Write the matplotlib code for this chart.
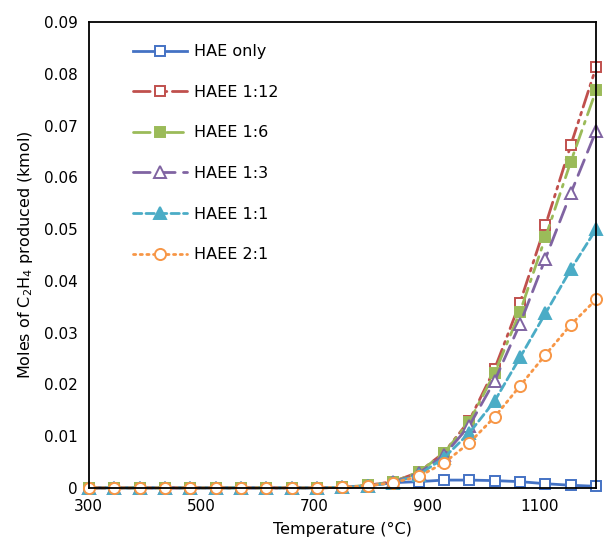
import matplotlib
matplotlib.use("Agg")
import matplotlib.pyplot as plt

temperature = [300, 345, 390, 435, 480, 525, 570, 615, 660, 705, 750,
               795, 840, 885, 930, 975, 1020, 1065, 1110, 1155, 1200]

hae_only = [0, 0, 0, 0, 0, 0, 0, 0, 0, 0, 0.0001,
            0.0004, 0.0010, 0.0012, 0.0015, 0.0015, 0.0014, 0.0012, 0.0008, 0.0005, 0.0003]
haee_1_12 = [0, 0, 0, 0, 0, 0, 0, 0, 0, 0, 0.0001,
             0.0005, 0.0012, 0.0030, 0.0068, 0.0130, 0.0230, 0.0358, 0.0507, 0.0662, 0.0813]
haee_1_6 = [0, 0, 0, 0, 0, 0, 0, 0, 0, 0, 0.0001,
            0.0005, 0.0012, 0.0030, 0.0067, 0.0128, 0.0222, 0.0340, 0.0484, 0.0630, 0.0768]
haee_1_3 = [0, 0, 0, 0, 0, 0, 0, 0, 0, 0, 0.0001,
            0.0004, 0.0011, 0.0028, 0.0063, 0.0120, 0.0207, 0.0317, 0.0443, 0.0569, 0.0690]
haee_1_1 = [0, 0, 0, 0, 0, 0, 0, 0, 0, 0, 0.0001,
            0.0004, 0.0010, 0.0025, 0.0058, 0.0106, 0.0168, 0.0252, 0.0337, 0.0422, 0.0500]
haee_2_1 = [0, 0, 0, 0, 0, 0, 0, 0, 0, 0, 0.0001,
            0.0004, 0.0010, 0.0022, 0.0048, 0.0087, 0.0137, 0.0197, 0.0257, 0.0315, 0.0364]

labels = ["HAE only", "HAEE 1:12", "HAEE 1:6", "HAEE 1:3", "HAEE 1:1", "HAEE 2:1"]
x_ticks = [300, 500, 700, 900, 1100]
y_ticks = [0, 0.01, 0.02, 0.03, 0.04, 0.05, 0.06, 0.07, 0.08, 0.09]
y_tick_labels = ["0", "0.01", "0.02", "0.03", "0.04", "0.05", "0.06", "0.07", "0.08", "0.09"]

plt.rcParams['font.family'] = ['DejaVu Sans']

fig = plt.figure(figsize=(6.04, 5.5), dpi=100)
ax = fig.add_axes([0.147, 0.113, 0.840, 0.847])

series = [hae_only, haee_1_12, haee_1_6, haee_1_3, haee_1_1, haee_2_1]
styles = [
    dict(color="#4472C4", linestyle="-", marker="s", mfc="white", ms=7.5),
    dict(color="#C0504D", linestyle=(0, (6, 2, 1, 2, 1, 2)), marker="s", mfc="white", ms=7.5),
    dict(color="#9BBB59", linestyle=(0, (6, 2.5, 1, 2.5)), marker="s", mfc="#9BBB59", ms=7.5),
    dict(color="#8064A2", linestyle=(0, (6, 3)), marker="^", mfc="white", ms=8),
    dict(color="#4BACC6", linestyle=(0, (3, 1.5)), marker="^", mfc="#4BACC6", ms=8),
    dict(color="#F79646", linestyle=(0, (0.8, 1.6)), marker="o", mfc="white", ms=8),
]

for y, lab, st in zip(series, labels, styles):
    ls = st.pop("linestyle")
    ax.plot(temperature, y, label=lab, linestyle=ls, lw=2.0,
            mew=1.4, clip_on=False, dash_capstyle="round", **st)

ax.set_xlim(300, 1200)
ax.set_ylim(0, 0.09)
ax.set_xticks(x_ticks)
ax.set_xticklabels([str(v) for v in x_ticks])
ax.set_yticks(y_ticks)
ax.set_yticklabels(y_tick_labels)
ax.tick_params(axis="both", length=0, labelsize=11, pad=8)
for sp in ax.spines.values():
    sp.set_linewidth(1.3)
    sp.set_color("black")

ax.set_xlabel("Temperature (\u00b0C)", fontsize=11.5, labelpad=6)
ax.set_ylabel("Moles of C$_2$H$_4$ produced (kmol)", fontsize=11.5, labelpad=6)

leg = ax.legend(loc="upper left", bbox_to_anchor=(0.087, 0.952), frameon=False,
                fontsize=11.5, handlelength=3.4, handletextpad=0.4,
                labelspacing=1.6, borderaxespad=0, borderpad=0)

fig.savefig("out.png", dpi=100)
